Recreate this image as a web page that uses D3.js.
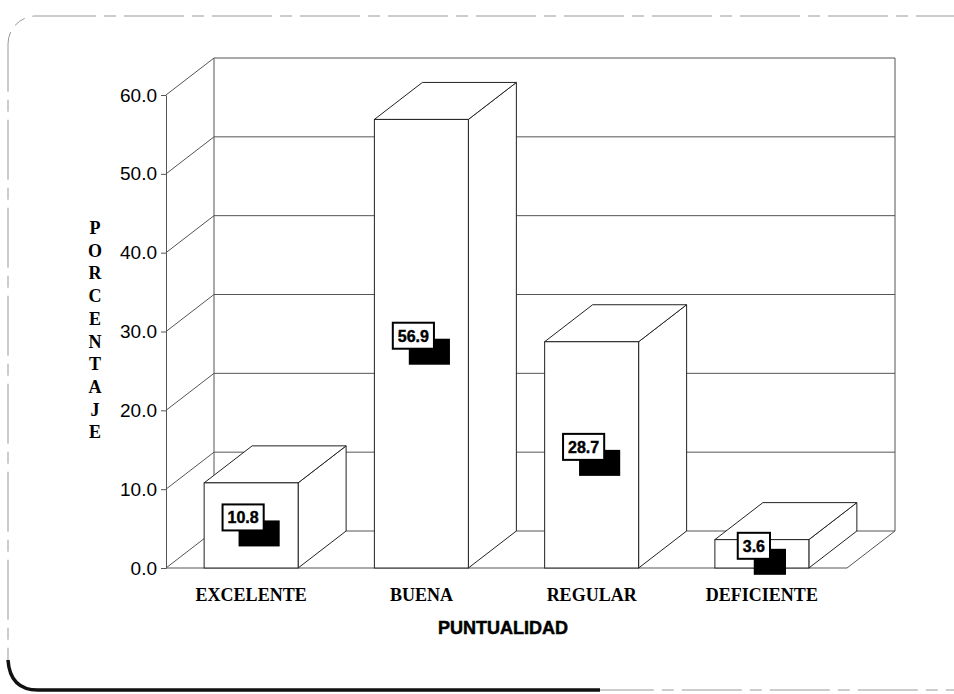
<!DOCTYPE html>
<html>
<head>
<meta charset="utf-8">
<script src="https://cdn.jsdelivr.net/npm/d3@7"></script>
<style>
  html, body { margin: 0; padding: 0; background: #fff; }
  svg { display: block; }
</style>
</head>
<body>
<svg id="chart" width="954" height="694"></svg>
<script>
// ---- data ----
const categories = ["EXCELENTE", "BUENA", "REGULAR", "DEFICIENTE"];
const values = [10.8, 56.9, 28.7, 3.6];
const tickValues = [0, 10, 20, 30, 40, 50, 60];
const yTitle = "PORCENTAJE";
const xTitle = "PUNTUALIDAD";

(function () {
// ---- layout ----
const svg = d3.select("#chart");
const plotLeft = 166, plotRight = 847, plotBottom = 568, plotTop = 95;
const dx = 48, dy = -37;
const gridColor = "#555";

const x = d3.scaleBand().domain(categories).range([plotLeft, plotRight])
  .paddingInner(0.448).paddingOuter(0.224);
const y = d3.scaleLinear().domain([0, 60]).range([plotBottom, plotTop]);

// frame
svg.append("rect")
  .attr("x", 8).attr("y", 16).attr("width", 980).attr("height", 674)
  .attr("rx", 28).attr("ry", 28)
  .attr("fill", "none").attr("stroke", "#999").attr("stroke-width", 1)
  .attr("stroke-dasharray", "60,8,12,8");
svg.append("path")
  .attr("d", "M8,660 Q10,690 38,690 L600,690")
  .attr("fill", "none").attr("stroke", "#111").attr("stroke-width", 3.5);

const grid = svg.append("g").attr("stroke", gridColor).attr("stroke-width", 1).attr("fill", "none");

// back wall horizontal gridlines + side wall diagonals
tickValues.forEach(t => {
  grid.append("line")
    .attr("x1", plotLeft + dx).attr("x2", plotRight + dx)
    .attr("y1", y(t) + dy).attr("y2", y(t) + dy);
  grid.append("line")
    .attr("x1", plotLeft).attr("y1", y(t))
    .attr("x2", plotLeft + dx).attr("y2", y(t) + dy);
});
// back wall verticals
grid.append("line").attr("x1", plotLeft + dx).attr("x2", plotLeft + dx)
  .attr("y1", y(0) + dy).attr("y2", y(60) + dy);
grid.append("line").attr("x1", plotRight + dx).attr("x2", plotRight + dx)
  .attr("y1", y(0) + dy).attr("y2", y(60) + dy);
// floor
grid.append("line").attr("x1", plotLeft).attr("x2", plotRight)
  .attr("y1", y(0)).attr("y2", y(0));
grid.append("line").attr("x1", plotRight).attr("y1", y(0))
  .attr("x2", plotRight + dx).attr("y2", y(0) + dy);

// y axis
const yAxis = d3.axisLeft(y).tickValues(tickValues)
  .tickFormat(d3.format(".1f")).tickSize(5).tickSizeOuter(0).tickPadding(4);
const gy = svg.append("g").attr("transform", `translate(${plotLeft},0)`).call(yAxis);
gy.select(".domain").attr("stroke", gridColor);
gy.selectAll(".tick line").attr("stroke", gridColor);
gy.selectAll(".tick text")
  .attr("font-family", "Liberation Sans, Arial, sans-serif")
  .attr("font-size", 19).attr("fill", "#000");

// bars
const bars = svg.append("g");
categories.forEach((c, i) => {
  const v = values[i];
  const x0 = x(c), x1 = x(c) + x.bandwidth();
  const yv = y(v), y0 = y(0);
  const g = bars.append("g").attr("fill", "#fff").attr("stroke", "#222").attr("stroke-width", 1);
  g.append("polygon").attr("points",
    [[x1, yv], [x1 + dx, yv + dy], [x1 + dx, y0 + dy], [x1, y0]].map(p => p.join(",")).join(" "));
  g.append("polygon").attr("points",
    [[x0, yv], [x0 + dx, yv + dy], [x1 + dx, yv + dy], [x1, yv]].map(p => p.join(",")).join(" "));
  g.append("rect").attr("x", x0).attr("y", yv).attr("width", x1 - x0).attr("height", y0 - yv);
});

// value labels
const lab = svg.append("g");
categories.forEach((c, i) => {
  const v = values[i];
  const cx = x(c) + x.bandwidth() / 2;
  const cy = (y(v) + y(0)) / 2;
  const g = lab.append("g");
  const shadow = g.append("rect").attr("fill", "#000");
  const box = g.append("rect").attr("fill", "#fff").attr("stroke", "#000").attr("stroke-width", 2);
  const t = g.append("text").text(d3.format(".1f")(v))
    .attr("font-family", "Liberation Sans, Arial, sans-serif")
    .attr("font-weight", "bold").attr("font-size", 16)
    .attr("stroke", "#000").attr("stroke-width", 0.4)
    .attr("text-anchor", "middle");
  const w = t.node().getComputedTextLength() + 10;
  const h = 26, off = 16;
  const bx = cx - (w + off) / 2, by = cy - (h + off) / 2;
  shadow.attr("x", bx + off).attr("y", by + off).attr("width", w).attr("height", h);
  box.attr("x", bx).attr("y", by).attr("width", w).attr("height", h);
  t.attr("x", bx + w / 2).attr("y", by + h / 2 + 6);
});

// x axis labels
const xAxis = d3.axisBottom(x).tickSize(0).tickPadding(20);
const gx = svg.append("g").attr("transform", `translate(0,${plotBottom})`).call(xAxis);
gx.select(".domain").remove();
gx.selectAll(".tick text")
  .attr("font-family", "Liberation Serif, Times New Roman, serif")
  .attr("font-weight", "bold").attr("font-size", 18).attr("fill", "#000");

// x title
svg.append("text").attr("x", 503).attr("y", 634)
  .attr("text-anchor", "middle")
  .attr("font-family", "Liberation Sans, Arial, sans-serif")
  .attr("font-weight", "bold").attr("font-size", 18)
  .attr("stroke", "#000").attr("stroke-width", 0.5)
  .text(xTitle);

// y title (stacked letters)
const yt = svg.append("text")
  .attr("font-family", "Liberation Serif, Times New Roman, serif")
  .attr("font-weight", "bold").attr("font-size", 18)
  .attr("text-anchor", "middle");
yTitle.split("").forEach((ch, i) => {
  yt.append("tspan").attr("x", 95).attr("y", 234 + i * 22.7).text(ch);
});
})();
</script>
</body>
</html>
